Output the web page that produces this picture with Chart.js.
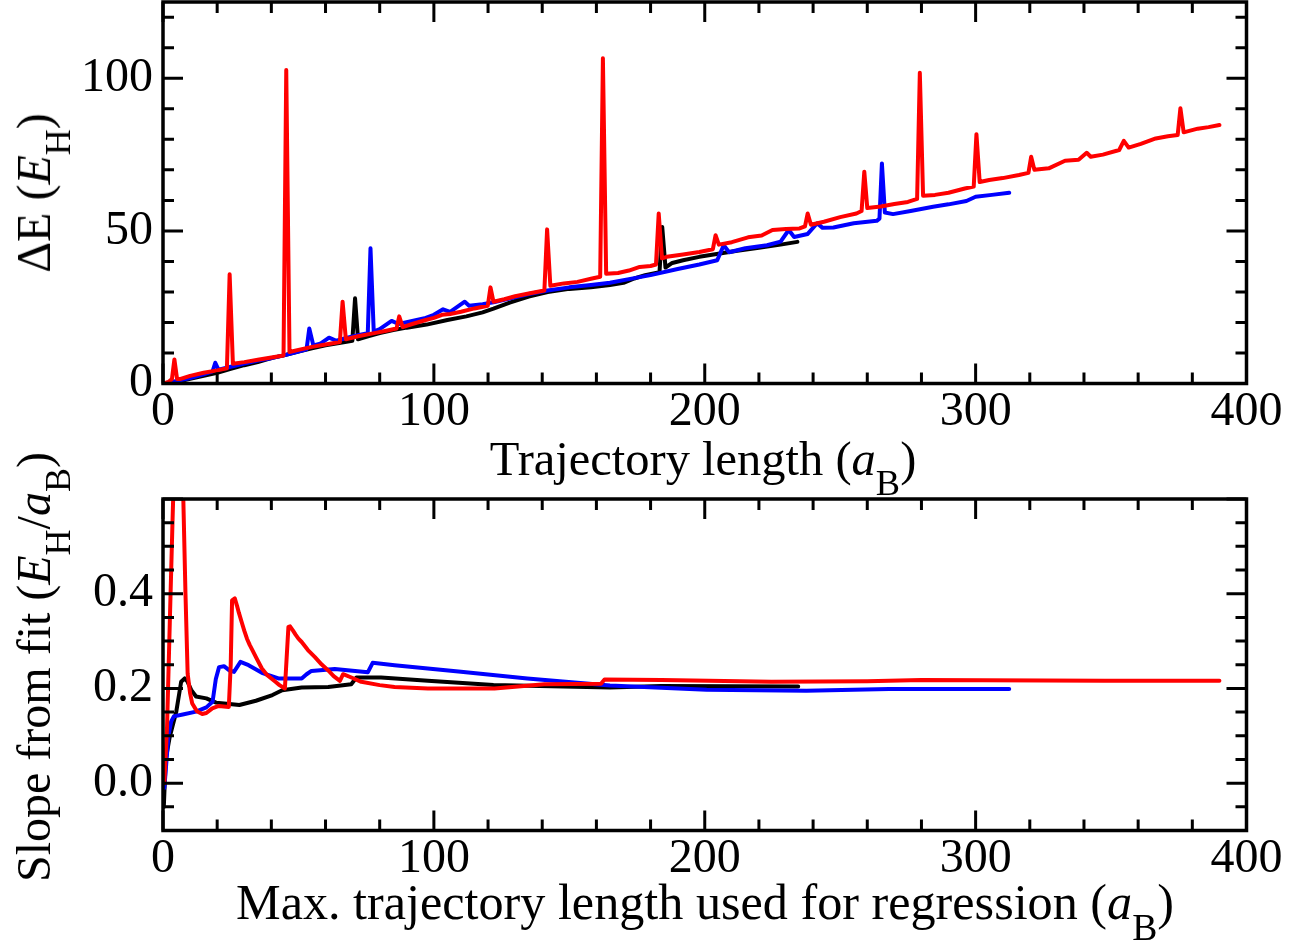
<!DOCTYPE html>
<html><head><meta charset="utf-8">
<script src="https://cdn.jsdelivr.net/npm/chart.js@4.4.1/dist/chart.umd.min.js"></script>
<style>
html,body{margin:0;padding:0;background:#fff;}
#wrap{position:relative;width:1314px;height:945px;overflow:hidden;font-family:'Liberation Serif','Times New Roman',serif;color:#000;background:#fff;}
.cv{position:absolute;left:0;}
.t{position:absolute;font-size:48px;line-height:48px;white-space:nowrap;}
.xt{transform:translateX(-50%);}
.yt{transform:translate(-50%,-50%) rotate(-90deg);}
.s{font-size:0.75em;position:relative;top:0.55em;}
</style></head>
<body><div id="wrap">
<canvas id="c1" class="cv" width="1314" height="470" style="top:0px"></canvas>
<canvas id="c2" class="cv" width="1314" height="475" style="top:470px"></canvas>
<div class="t xt" style="left:703px;top:435px;font-size:48.5px">Trajectory length (<i>a</i><span class="s">B</span>)</div>
<div class="t xt" style="left:705px;top:878px;font-size:50.2px">Max. trajectory length used for regression (<i>a</i><span class="s">B</span>)</div>
<div class="t yt" style="left:36px;top:193px">ΔE (<i>E</i><span class="s">H</span>)</div>
<div class="t yt" style="left:36px;top:667px">Slope from fit (<i>E</i><span class="s">H</span>/<i>a</i><span class="s">B</span>)</div>
</div>
<script>
// ---------- tick labels ----------
const xTickLabels = [0, 100, 200, 300, 400];
const topYTickLabels = [0, 50, 100];
const botYTickLabels = [0.0, 0.2, 0.4];

// ---------- top panel: energy loss vs trajectory length ----------
const topRedX = [0,2,3.3,4.2,5.2,6.5,10,15,20,23.6,24.6,25.8,30,35,40,44.5,45.5,46.7,50,55,60,65.3,66.3,67.5,72,78,82,86.2,87.2,88.5,92,97,100,103,106,110,115,119.9,120.9,122,126,130,135,140.8,141.8,143,148,153,158,161.4,162.4,163.6,168,172,176,180,182,183,184.2,186,192,198,203,204,205.2,210,216,221,225,230,235,237,238,239.2,244,250,256,257.9,258.9,260,265,270,275,278.4,279.4,280.6,285,290,296,299.3,300.3,301.5,305,310,316,319.5,320.5,321.7,327,333,338,341,342.5,347,353,354.7,356.5,361,366.5,371,374.6,375.6,376.8,382,386,390];
const topRedY = [0,0.5,1.5,7.9,1.5,1.5,2.5,3.5,4.3,5,35.8,6.5,7,7.8,8.5,9.2,102.7,10.3,11,12,12.8,13.6,26.8,14.5,15.5,16.5,17.2,18,22,18.5,19.5,20.8,21.5,22.5,22.8,23.5,24.6,25.5,31.5,26.8,27.6,28.6,29.5,30.5,50.5,32,32.8,33.3,34.3,35,106.6,36,36.2,37,38.2,38.5,39,55.7,41,41.5,42.3,43.1,44,48.6,45.5,46.3,47.9,48.5,50.3,50.6,50.8,51.5,55.7,52,53,54.5,55.7,56.5,69.4,57.5,58,58.8,59.5,60.5,101.8,61.5,61.8,62.5,63.9,64.5,81.7,66,66.7,67.3,68.3,69,74.3,70,70.5,73,73.3,75.6,74.3,75,76.5,79.5,77.3,78.5,80.3,81,81.4,90.2,82.3,83.5,84,84.7];

const topBlueX = [0,5,10,15,18.3,19.3,20.5,25,30,35,40,45,50,53,54,55.5,58,61.3,64,68,72,75.6,76.6,77.8,80,84.4,87,92,97,100,103.4,106,111.4,113,118,122,128,135,142,150,158,165,172,180,190,198,204.6,207,209,215,223,228,231,233,238,241.5,243.5,247.5,255,263.5,264.5,265.4,266.5,269.5,276,284.3,290,296.6,300,306,312.4];
const topBlueY = [0,0.8,1.8,3,4,6.8,4.5,5.5,6.5,7.5,8.3,9.3,10.5,11.2,18,12.5,13,15,14,15,15.8,16.5,44.3,17,17.8,20.5,19.5,20.5,21.5,22.5,24.3,23.5,26.8,25.5,26,26.6,27.8,29.3,30.5,31.5,32.3,33,34.2,35.5,37.5,39,40.4,45.3,43,44.3,45.3,46.5,50.3,48,49,52.5,51,51.1,52.5,53.3,54,72.1,56,55.5,56.5,57.9,58.7,59.8,61.2,61.8,62.5];

const topBlackX = [0,5,10,15,20,25,30,35,40,45,50,55,60,65,69.9,70.9,72,76,80,85,90,97.3,105,112,118,122,128,135,142,150,158,165,170,174,178,183.3,184.3,185.5,188,192,198,205,212,220,228,234.2];
const topBlackY = [0,0.5,1.5,2.5,3.5,4.8,6,7,8.3,9.3,10.5,11.5,12.5,13.3,14,27.9,14.5,15.5,16.5,17.5,18.3,19.3,20.8,22,23.3,24.5,26.5,28.5,30,31,31.5,32.3,33,34.4,35.5,36.5,51.3,38,39.5,40.4,41.5,42.5,43.5,44.5,45.5,46.4];

// ---------- bottom panel: slope from fit ----------
const botRedX = [0.5,1.5,2.5,3.5,4,5.5,7,7.5,8.3,9.1,10,10.8,12.5,14.5,16,18.2,20.6,24.3,25,25.5,26.5,27.3,28,29.2,30,31,32,33,34.5,36.5,38.5,41.5,43,45,45.6,46.3,46.9,48,49,50,51.2,53.5,56.1,58.5,61,63,65.3,66.5,70,73.2,80,85.5,97.8,110,122.4,140.8,161.7,163,184,224.6,260,280,347.5,390];
const botRedY = [0,0.12,0.337,0.55,0.65,0.95,0.7,0.6,0.4,0.231,0.19,0.168,0.152,0.146,0.148,0.158,0.163,0.161,0.25,0.386,0.39,0.375,0.36,0.337,0.322,0.305,0.292,0.281,0.264,0.242,0.228,0.214,0.207,0.2,0.26,0.33,0.331,0.322,0.313,0.305,0.298,0.281,0.266,0.251,0.238,0.226,0.216,0.23,0.222,0.214,0.207,0.203,0.2,0.2,0.2,0.209,0.21,0.219,0.218,0.214,0.215,0.218,0.216,0.216];

const botBlueX = [0.5,2,3,4,7.3,12.2,16,18.3,19.5,20.7,22.5,24.5,26.2,28.6,31.6,36.5,42.6,51.2,53,54.8,63.4,75.6,77.4,85.5,110,134.5,165,200.7,237.5,268,312.4];
const botBlueY = [-0.01,0.1,0.13,0.141,0.145,0.151,0.16,0.172,0.22,0.245,0.247,0.238,0.235,0.256,0.249,0.233,0.221,0.221,0.23,0.237,0.241,0.234,0.254,0.249,0.235,0.221,0.206,0.197,0.195,0.199,0.199];

const botBlackX = [0.3,1,2.5,4.9,6.7,8,9,10.4,12.2,16,19.6,24.5,28.2,34.3,40.4,44,51.2,61,69.5,71.4,80.5,97.8,122,165,184,234.5];
const botBlackY = [-0.05,0.05,0.098,0.151,0.214,0.221,0.215,0.197,0.183,0.179,0.17,0.167,0.165,0.174,0.186,0.196,0.202,0.203,0.209,0.223,0.223,0.216,0.207,0.202,0.205,0.204];

// ---------- helpers ----------
const FONT = "'Liberation Serif','Times New Roman',serif";
const pts = (xs, ys) => xs.map((x, i) => ({x: x, y: ys[i]}));
const near = (v, list) => list.some(m => Math.abs(v - m) < 1e-6);
const isMult = (v, m) => Math.abs(v / m - Math.round(v / m)) < 1e-6;

const framePlugin = {
  id: 'frame',
  afterDatasetsDraw(chart, args, opts) {
    const {ctx, chartArea: a, scales} = chart;
    ctx.save();
    ctx.strokeStyle = '#000';
    ctx.lineCap = 'butt';
    ctx.lineWidth = 3;
    ctx.beginPath();
    scales.x.ticks.forEach(t => {
      const p = scales.x.getPixelForValue(t.value);
      const L = isMult(t.value, opts.xMajor) ? 20 : 11;
      ctx.moveTo(p, a.bottom); ctx.lineTo(p, a.bottom - L);
      ctx.moveTo(p, a.top); ctx.lineTo(p, a.top + L);
    });
    scales.y.ticks.forEach(t => {
      const p = scales.y.getPixelForValue(t.value);
      const L = isMult(t.value, opts.yMajor) ? 20 : 11;
      ctx.moveTo(a.left, p); ctx.lineTo(a.left + L, p);
      ctx.moveTo(a.right, p); ctx.lineTo(a.right - L, p);
    });
    ctx.stroke();
    ctx.lineWidth = 3.5;
    ctx.strokeRect(a.left, a.top, a.right - a.left, a.bottom - a.top);
    ctx.restore();
  }
};

function ds(data, color) {
  return {data: data, borderColor: color, backgroundColor: color, borderWidth: 4,
          pointRadius: 0, tension: 0, fill: false, borderJoinStyle: 'round', borderCapStyle: 'round'};
}

function makeChart(id, cfg) {
  return new Chart(document.getElementById(id), {
    type: 'line',
    data: {datasets: cfg.datasets},
    options: {
      responsive: false, animation: false, events: [],
      layout: {autoPadding: false, padding: {left: 0, right: 67.5, top: cfg.padTop, bottom: 0}},
      plugins: {legend: {display: false}, tooltip: {enabled: false}, frame: {xMajor: 100, yMajor: cfg.yMajor}},
      scales: {
        x: {
          type: 'linear', min: 0, max: 400,
          grid: {display: false, drawTicks: false}, border: {display: false},
          ticks: {stepSize: 20, autoSkip: false, maxRotation: 0, padding: 0, color: '#000',
                  font: {family: FONT, size: 48},
                  callback: v => near(v, xTickLabels) ? String(Math.round(v)) : ''},
          afterFit: s => { s.height = cfg.xH; s.paddingLeft = 0; s.paddingRight = 0; }
        },
        y: {
          type: 'linear', min: cfg.yMin, max: cfg.yMax,
          grid: {display: false, drawTicks: false}, border: {display: false},
          ticks: {stepSize: cfg.yStep, autoSkip: false, includeBounds: false, padding: 10, color: '#000',
                  font: {family: FONT, size: 48},
                  callback: v => near(v, cfg.yLabels) ? cfg.fmt(v) : ''},
          afterFit: s => { s.width = 163; s.paddingTop = 0; s.paddingBottom = 0; }
        }
      }
    },
    plugins: [framePlugin]
  });
}

makeChart('c1', {
  datasets: [ds(pts(topRedX, topRedY), '#ff0000'), ds(pts(topBlueX, topBlueY), '#0000ff'), ds(pts(topBlackX, topBlackY), '#000000')],
  padTop: 2, xH: 86.5, yMin: 0, yMax: 125, yStep: 10, yMajor: 50,
  yLabels: topYTickLabels, fmt: v => String(Math.round(v))
});

makeChart('c2', {
  datasets: [ds(pts(botRedX, botRedY), '#ff0000'), ds(pts(botBlueX, botBlueY), '#0000ff'), ds(pts(botBlackX, botBlackY), '#000000')],
  padTop: 29, xH: 114.5, yMin: -0.1, yMax: 0.6, yStep: 0.05, yMajor: 0.2,
  yLabels: botYTickLabels, fmt: v => (Math.abs(v) < 1e-9 ? 0 : v).toFixed(1)
});
</script>
</body></html>
